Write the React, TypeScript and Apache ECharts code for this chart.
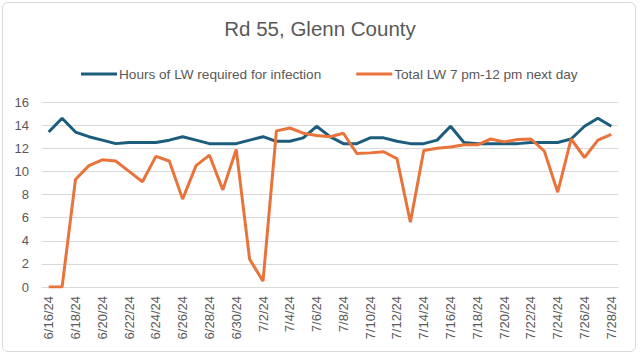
import React, { useEffect, useRef } from "react";
import * as echarts from "echarts";

const dates = [
  "6/16/24","6/17/24","6/18/24","6/19/24","6/20/24","6/21/24","6/22/24","6/23/24","6/24/24","6/25/24",
  "6/26/24","6/27/24","6/28/24","6/29/24","6/30/24","7/1/24","7/2/24","7/3/24","7/4/24","7/5/24",
  "7/6/24","7/7/24","7/8/24","7/9/24","7/10/24","7/11/24","7/12/24","7/13/24","7/14/24","7/15/24",
  "7/16/24","7/17/24","7/18/24","7/19/24","7/20/24","7/21/24","7/22/24","7/23/24","7/24/24","7/25/24",
  "7/26/24","7/27/24","7/28/24",
];

const hoursRequired = [
  13.4, 14.6, 13.4, 13.0, 12.7, 12.4, 12.5, 12.5, 12.5, 12.7,
  13.0, 12.7, 12.4, 12.4, 12.4, 12.7, 13.0, 12.6, 12.6, 12.9,
  13.9, 13.0, 12.4, 12.4, 12.9, 12.9, 12.6, 12.4, 12.4, 12.7,
  13.9, 12.5, 12.4, 12.4, 12.4, 12.4, 12.5, 12.5, 12.5, 12.8,
  13.9, 14.6, 13.9,
];

const totalLW = [
  0, 0, 9.3, 10.5, 11.0, 10.9, 10.0, 9.1, 11.3, 10.9,
  7.6, 10.5, 11.4, 8.4, 11.9, 2.4, 0.5, 13.5, 13.75, 13.3,
  13.1, 13.0, 13.3, 11.55, 11.6, 11.7, 11.1, 5.6, 11.8, 12.0,
  12.1, 12.3, 12.3, 12.8, 12.55, 12.75, 12.8, 11.75, 8.2, 12.8,
  11.2, 12.7, 13.2,
];

const seriesNames = ["Hours of LW required for infection", "Total LW 7 pm-12 pm next day"];

export default function App() {
  const ref = useRef<HTMLDivElement>(null);
  useEffect(() => {
    if (!ref.current) return;
    const chart = echarts.init(ref.current, null, { renderer: "svg" });
    const textColor = "#595959";
    const font = "'Liberation Sans', Arial, sans-serif";
    chart.setOption({
      animation: false,
      textStyle: { fontFamily: font },
      title: {
        text: "Rd 55, Glenn County",
        left: "center",
        top: 13,
        textStyle: { fontSize: 20.5, fontWeight: "normal", color: textColor, fontFamily: font },
      },
      legend: {
        top: 62,
        left: 76,
        width: 600,
        itemGap: 35,
        itemWidth: 36,
        itemHeight: 10,
        icon: "path://M0,3.5 L36,3.5 L36,6.5 L0,6.5 Z",
        textStyle: { fontSize: 13.6, color: textColor, fontFamily: font, padding: [0, 0, 0, -3] },
        data: seriesNames,
      },
      grid: { left: 42, right: 22, top: 102, bottom: 71, containLabel: false },
      xAxis: {
        type: "category",
        data: dates,
        boundaryGap: true,
        axisLine: { lineStyle: { color: "#d9d9d9", width: 1 } },
        axisTick: { show: false },
        axisLabel: {
          rotate: 90,
          interval: 1,
          color: textColor,
          fontSize: 13,
          margin: 9,
        },
      },
      yAxis: {
        type: "value",
        min: 0,
        max: 16,
        interval: 2,
        axisLine: { show: false },
        axisTick: { show: false },
        axisLabel: { color: textColor, fontSize: 13, margin: 13 },
        splitLine: { lineStyle: { color: "#d9d9d9", width: 1 } },
      },
      series: [
        {
          name: seriesNames[0],
          type: "line",
          data: hoursRequired,
          symbol: "none",
          lineStyle: { color: "#1c5d7e", width: 3 },
          itemStyle: { color: "#1c5d7e" },
        },
        {
          name: seriesNames[1],
          type: "line",
          data: totalLW,
          symbol: "none",
          lineStyle: { color: "#e8743b", width: 3 },
          itemStyle: { color: "#e8743b" },
        },
      ],
    });
    return () => chart.dispose();
  }, []);
  return (
    <div
      style={{
        position: "fixed",
        left: 0,
        top: 0,
        width: 640,
        height: 358,
        background: "#fff",
      }}
    >
      <div
        style={{
          position: "absolute",
          left: 2,
          top: 2,
          width: 634,
          height: 350,
          border: "1px solid #d9d9d9",
          borderRadius: 6,
          boxSizing: "border-box",
        }}
      />
      <div ref={ref} style={{ position: "absolute", left: 0, top: 0, width: 640, height: 358 }} />
    </div>
  );
}
